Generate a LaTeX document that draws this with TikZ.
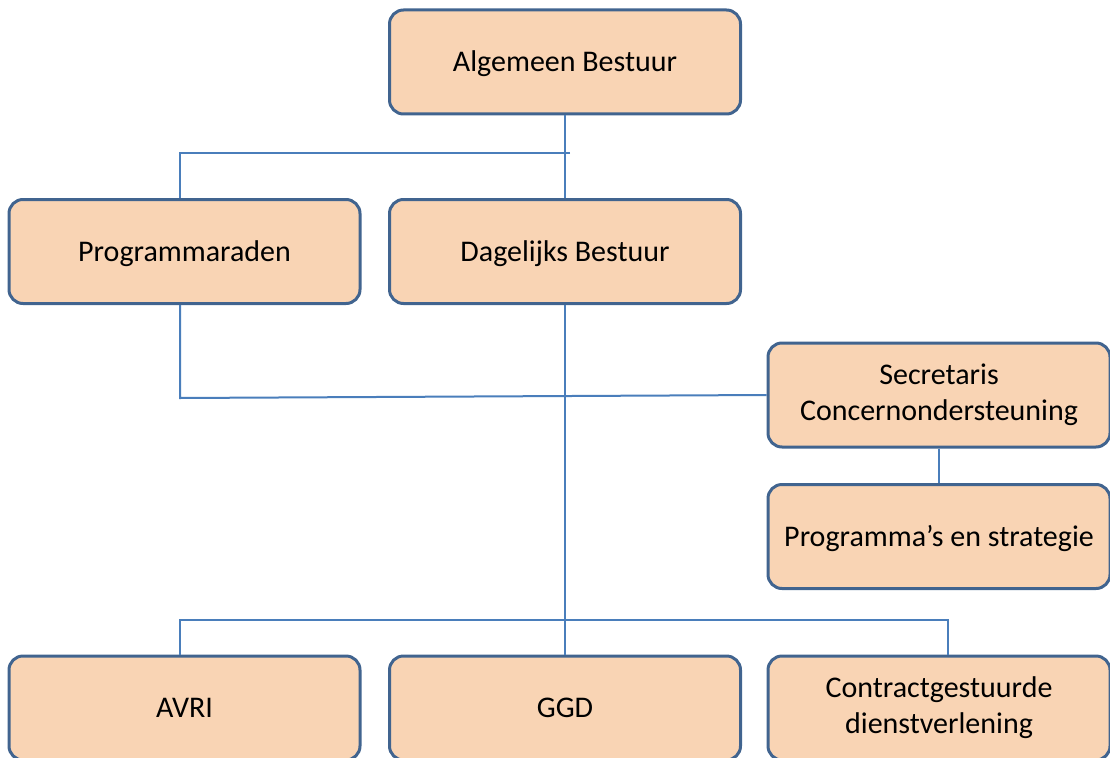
\documentclass[tikz,border=0pt]{standalone}
\usepackage{fontspec}
\setmainfont{Carlito}
\definecolor{boxfill}{HTML}{F9D4B4}
\definecolor{boxline}{HTML}{41648F}
\definecolor{conn}{HTML}{4A7EBB}
\begin{document}
\begin{tikzpicture}[x=1pt,y=-1pt,
  orgbox/.style={draw=boxline, line width=3pt, fill=boxfill, rounded corners=14pt,
    minimum width=351pt, minimum height=104pt, inner sep=0pt, align=center,
    font=\fontsize{30}{36}\selectfont},
  oneline/.style={text height=19.3pt, text depth=0pt},
  link/.style={draw=conn, line width=2pt}]
\useasboundingbox (0,0) rectangle (1110,757);
\node[orgbox, oneline] (ab) at (565,62) {Algemeen Bestuur};
\node[orgbox, oneline] (pr) at (184.5,251.5) {Programmaraden};
\node[orgbox, oneline] (db) at (565,251.5) {Dagelijks Bestuur};
\node[orgbox, minimum width=342pt] (sec) at (939,395) {Secretaris\\Concernondersteuning};
\node[orgbox, oneline, minimum width=342pt] (pes) at (939,536.5) {Programma’s en strategie};
\node[orgbox, oneline] (avri) at (184.5,708) {AVRI};
\node[orgbox, oneline] (ggd) at (565,708) {GGD};
\node[orgbox, minimum width=342pt] (cd) at (939,708) {Contractgestuurde\\dienstverlening};
\coordinate (j1) at (570,153);
\coordinate (j2) at (180,398);
\coordinate (j3) at (565,620);
% connectors
\draw[link] (ab.south) -- (db.north);
\draw[link] (j1) -- (180,153) -- (180,153 |- pr.north);
\draw[link] (pr.south -| j2) -- (j2) -- (sec.west);
\draw[link] (sec.south -| pes.north) -- (pes.north);
\draw[link] (db.south) -- (ggd.north);
\draw[link] (180,0 |- avri.north) -- (180,620) -- (948,620) -- (948,0 |- cd.north);
\end{tikzpicture}
\end{document}
